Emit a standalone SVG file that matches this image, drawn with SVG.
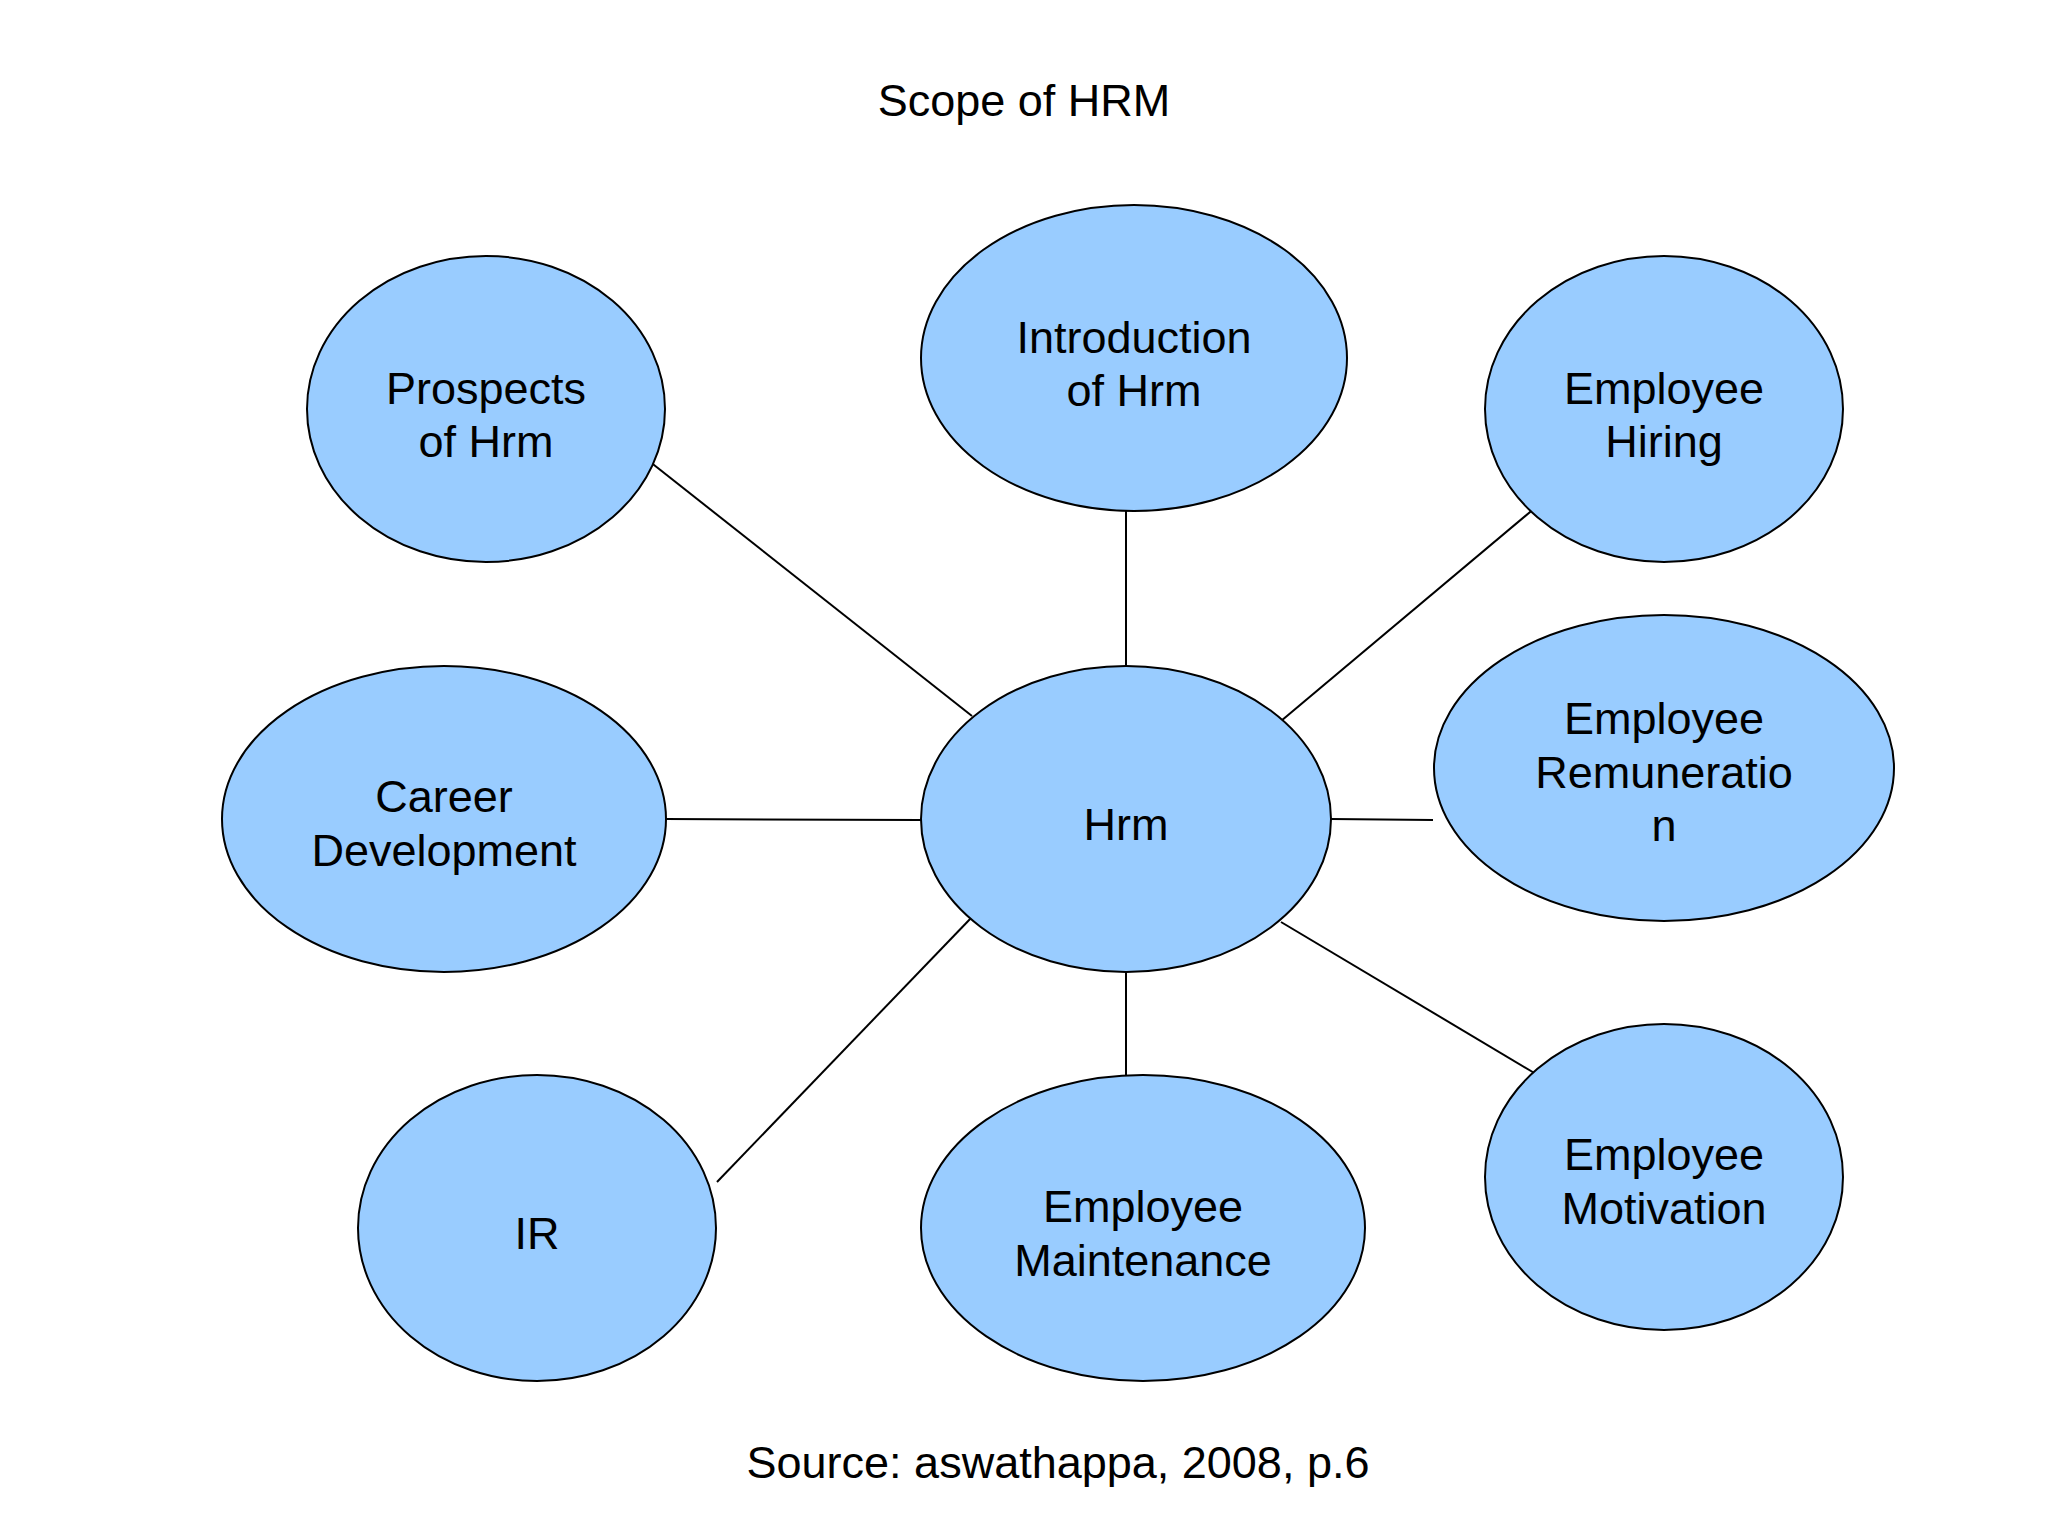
<svg xmlns="http://www.w3.org/2000/svg" width="2048" height="1536" viewBox="0 0 2048 1536">
<style>
.n ellipse{fill:#99ccff;stroke:#000;stroke-width:2}
text{font-family:"Liberation Sans",Arial,sans-serif;font-size:45px;fill:#000;text-anchor:middle}
.c line{stroke:#000;stroke-width:2}
</style>
<rect width="2048" height="1536" fill="#fff"/>
<text x="1024" y="116">Scope of HRM</text>
<g class="c" id="connectors">
<line x1="649" y1="461" x2="972" y2="716"/>
<line x1="1126" y1="511" x2="1126" y2="666"/>
<line x1="1536" y1="507" x2="1281" y2="721"/>
<line x1="666" y1="819" x2="921" y2="820"/>
<line x1="1331" y1="819" x2="1433" y2="820"/>
<line x1="972" y1="917" x2="717" y2="1182"/>
<line x1="1126" y1="969" x2="1126" y2="1079"/>
<line x1="1281" y1="922" x2="1536" y2="1074"/>
</g>
<g class="n" id="prospects"><ellipse cx="486" cy="409" rx="179" ry="153"/><text x="486" y="404">Prospects</text><text x="486" y="457">of Hrm</text></g>
<g class="n" id="introduction"><ellipse cx="1134" cy="358" rx="213" ry="153"/><text x="1134" y="353">Introduction</text><text x="1134" y="406">of Hrm</text></g>
<g class="n" id="hiring"><ellipse cx="1664" cy="409" rx="179" ry="153"/><text x="1664" y="404">Employee</text><text x="1664" y="457">Hiring</text></g>
<g class="n" id="career"><ellipse cx="444" cy="819" rx="222" ry="153"/><text x="444" y="812">Career</text><text x="444" y="866">Development</text></g>
<g class="n" id="hrm"><ellipse cx="1126" cy="819" rx="205" ry="153"/><text x="1126" y="840">Hrm</text></g>
<g class="n" id="remuneration"><ellipse cx="1664" cy="768" rx="230" ry="153"/><text x="1664" y="734">Employee</text><text x="1664" y="788">Remuneratio</text><text x="1664" y="841">n</text></g>
<g class="n" id="ir"><ellipse cx="537" cy="1228" rx="179" ry="153"/><text x="537" y="1249">IR</text></g>
<g class="n" id="maintenance"><ellipse cx="1143" cy="1228" rx="222" ry="153"/><text x="1143" y="1222">Employee</text><text x="1143" y="1276">Maintenance</text></g>
<g class="n" id="motivation"><ellipse cx="1664" cy="1177" rx="179" ry="153"/><text x="1664" y="1170">Employee</text><text x="1664" y="1224">Motivation</text></g>
<text x="1058" y="1478">Source: aswathappa, 2008, p.6</text>
</svg>
